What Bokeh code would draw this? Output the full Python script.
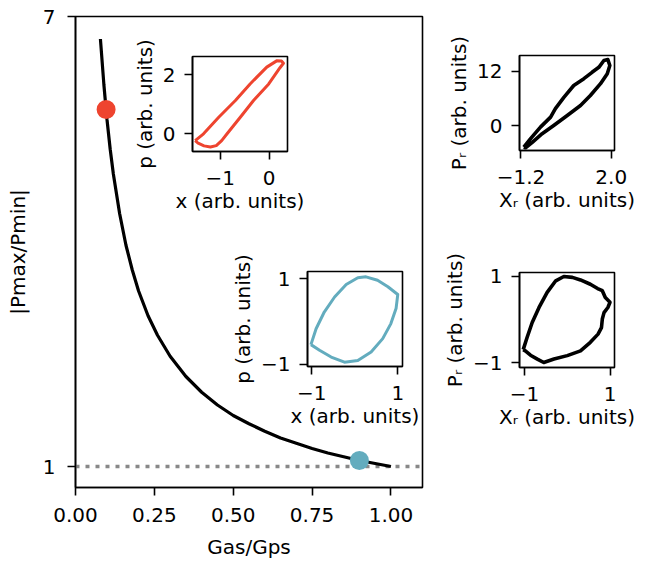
from bokeh.plotting import figure
from bokeh.models import Range1d, FixedTicker, Span, Column
from bokeh.embed import file_html
from bokeh.resources import INLINE

FONT = "DejaVu Sans"
RED = "#EE442F"
BLUE = "#63ACBE"

# ---------------- data ----------------
gas_ratio = [0.079, 0.09, 0.10, 0.11, 0.12, 0.14, 0.16, 0.18, 0.20, 0.23, 0.26, 0.30,
             0.35, 0.40, 0.45, 0.50, 0.55, 0.60, 0.65, 0.70, 0.75, 0.80, 0.85, 0.90,
             0.95, 1.00]
pmax_pmin = [6.70, 6.09, 5.62, 5.23, 4.90, 4.37, 3.95, 3.62, 3.34, 3.01, 2.75, 2.47,
             2.20, 1.99, 1.82, 1.68, 1.57, 1.47, 1.38, 1.31, 1.24, 1.18, 1.13, 1.08,
             1.04, 1.00]
marked_x = [0.097, 0.90]
marked_y = [5.76, 1.08]
reference_level = 1.0
main_xticks = [0.0, 0.25, 0.5, 0.75, 1.0]
main_yticks = [1, 7]

red_x = [-1.51, -1.34, -1.03, -0.69, -0.39, -0.05, 0.16, 0.25, 0.29, 0.22, -0.01, -0.32,
         -0.59, -0.86, -0.97, -1.08, -1.20, -1.33, -1.45, -1.51]
red_y = [-0.23, 0.00, 0.56, 1.13, 1.69, 2.26, 2.48, 2.47, 2.39, 2.24, 1.69, 1.13,
         0.56, 0.00, -0.23, -0.40, -0.45, -0.41, -0.32, -0.23]
red_xticks = [-1, 0]
red_yticks = [0, 2]

blue_x = [-1.02, -0.90, -0.71, -0.47, -0.20, 0.07, 0.26, 0.53, 0.77, 1.00, 0.96, 0.84,
          0.65, 0.38, 0.07, -0.24, -0.55, -0.82, -1.02]
blue_y = [-0.54, -0.17, 0.22, 0.57, 0.86, 1.02, 1.04, 0.96, 0.81, 0.63, 0.30, -0.05,
          -0.40, -0.71, -0.91, -0.95, -0.83, -0.67, -0.54]
blue_xticks = [-1, 1]
blue_yticks = [-1, 1]

exp1_x = [-1.10, -0.86, -0.51, -0.15, 0.02, 0.32, 0.67, 1.03, 1.32, 1.56, 1.74, 1.88,
          1.95, 1.86, 1.62, 1.26, 0.91, 0.44, -0.04, -0.45, -0.80, -1.04, -1.10]
exp1_y = [-4.67, -2.8, -0.26, 1.94, 3.8, 6.3, 8.9, 10.4, 11.8, 12.9, 14.4, 14.6,
          13.3, 11.5, 9.3, 6.7, 4.5, 2.3, 0.1, -1.7, -3.6, -4.8, -4.67]
exp1_xticks = [-1.2, 2.0]
exp1_yticks = [0, 12]

exp2_x = [-1.03, -0.94, -0.82, -0.66, -0.47, -0.27, -0.08, 0.12, 0.31, 0.54, 0.71, 0.82,
          0.89, 1.00, 0.95, 0.86, 0.82, 0.80, 0.72, 0.54, 0.31, 0.00, -0.31, -0.55,
          -0.70, -0.86, -0.98, -1.03]
exp2_y = [-0.70, -0.42, -0.07, 0.28, 0.63, 0.90, 1.00, 0.98, 0.92, 0.82, 0.72, 0.67,
          0.51, 0.40, 0.28, 0.16, 0.01, -0.19, -0.34, -0.53, -0.73, -0.84, -0.92, -1.00,
          -0.92, -0.83, -0.73, -0.70]
exp2_xticks = [-1, 1]
exp2_yticks = [-1, 1]


def minus(v, fmt="{:g}"):
    return fmt.format(v).replace("-", "\u2212")


def style_axes(fig, xticks, yticks, xlabel, ylabel, xfmt="{:g}", yfmt="{:g}",
               x_std=(7, 8), y_std=(8, 10)):
    fig.xgrid.visible = False
    fig.ygrid.visible = False
    fig.outline_line_color = "black"
    fig.outline_line_width = 1.6
    fig.outline_line_alpha = 1.0
    for ax in (fig.xaxis[0], fig.yaxis[0]):
        ax.axis_line_width = 1.6
        ax.axis_line_color = "black"
        ax.major_tick_line_width = 1.6
        ax.major_tick_line_color = "black"
        ax.major_tick_in = 0
        ax.major_tick_out = 8
        ax.minor_tick_line_color = None
        ax.major_label_text_font = FONT
        ax.major_label_text_font_size = "20px"
        ax.major_label_text_color = "black"
        ax.axis_label_text_font = FONT
        ax.axis_label_text_font_size = "20px"
        ax.axis_label_text_font_style = "normal"
        ax.axis_label_text_color = "black"
    xa, ya = fig.xaxis[0], fig.yaxis[0]
    xa.ticker = FixedTicker(ticks=xticks)
    ya.ticker = FixedTicker(ticks=yticks)
    xa.major_label_overrides = {t: minus(t, xfmt) for t in xticks}
    ya.major_label_overrides = {t: minus(t, yfmt) for t in yticks}
    xa.axis_label = xlabel
    ya.axis_label = ylabel
    xa.major_label_standoff, xa.axis_label_standoff = x_std
    ya.major_label_standoff, ya.axis_label_standoff = y_std


# Bokeh aligns the left/right borders of all children of a Column, so every
# figure gets the same left/right border and is then positioned by CSS.
BL, BR = 86, 28

# ---------------- main plot ----------------
MAIN_FRAME_LEFT = 75
p = figure(width=BL + 347 + BR, height=563, x_range=Range1d(0.0, 1.1),
           y_range=Range1d(0.72, 7.0),
           min_border_left=BL, min_border_right=BR, min_border_top=16,
           min_border_bottom=76,
           output_backend="svg", toolbar_location=None, tools="",
           background_fill_color="white", border_fill_color=None,
           styles={"position": "relative", "left": f"{MAIN_FRAME_LEFT - BL}px"})
style_axes(p, main_xticks, main_yticks, "Gas/Gps", "|Pmax/Pmin|", xfmt="{:.2f}",
           x_std=(12, 10), y_std=(12, 10))

ref = Span(location=reference_level, dimension="width", line_color="#888888",
           line_width=3.5, line_dash="4 6", level="underlay")
p.add_layout(ref)
p.line(gas_ratio, pmax_pmin, line_color="black", line_width=3.2)
p.scatter(marked_x, marked_y, size=19, color=[RED, BLUE], line_color=None)

# ---------------- insets ----------------
BT, BB = 20, 62


def make_inset(xr, yr, xs, ys, color, lw, xticks, yticks, xlabel, ylabel,
               frame_left, frame_top, xfmt="{:g}"):
    f = figure(x_range=Range1d(*xr), y_range=Range1d(*yr), frame_width=95, frame_height=95,
               min_border_left=BL, min_border_right=BR, min_border_top=BT,
               min_border_bottom=BB, output_backend="svg", toolbar_location=None, tools="",
               background_fill_color="white", border_fill_color=None,
               styles={"position": "absolute",
                       "left": f"{frame_left - BL:.1f}px",
                       "top": f"{frame_top - BT:.1f}px"})
    style_axes(f, xticks, yticks, xlabel, ylabel, xfmt=xfmt, x_std=(11, 1), y_std=(9, 3))
    f.line(xs, ys, line_color=color, line_width=lw, line_join="round")
    return f


f_red = make_inset((-1.565, 0.373), (-0.60, 2.62), red_x, red_y, RED, 3.0,
                   red_xticks, red_yticks, "x (arb. units)", "p (arb. units)", 192.3, 56)
f_blue = make_inset((-1.10, 1.11), (-1.05, 1.165), blue_x, blue_y, BLUE, 3.0,
                    blue_xticks, blue_yticks, "x (arb. units)", "p (arb. units)", 306.5, 271.3)
f_exp1 = make_inset((-1.253, 2.116), (-5.4, 15.5), exp1_x, exp1_y, "black", 3.6,
                    exp1_xticks, exp1_yticks, "X\u1d63 (arb. units)", "P\u1d63 (arb. units)",
                    519, 55, xfmt="{:.1f}")
f_exp2 = make_inset((-1.117, 1.105), (-1.116, 1.093), exp2_x, exp2_y, "black", 3.6,
                    exp2_xticks, exp2_yticks, "X\u1d63 (arb. units)", "P\u1d63 (arb. units)",
                    519, 271.7)

root = Column(children=[p, f_red, f_blue, f_exp1, f_exp2], styles={"position": "relative"})

open("out.html", "w").write(file_html(root, INLINE))
